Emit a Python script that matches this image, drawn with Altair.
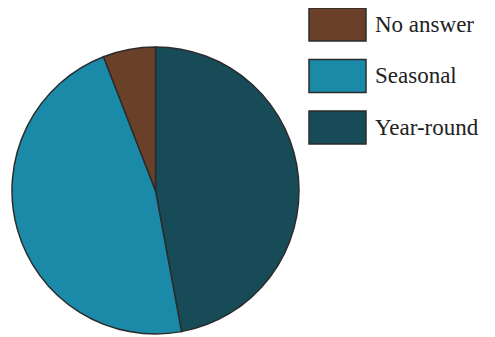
import altair as alt
import pandas as pd

categories = ["Year-round", "Seasonal", "No answer"]
values = [47.1, 47.0, 5.9]
order = [0, 1, 2]

legend_domain = ["No answer", "Seasonal", "Year-round"]
colors = ["#6A4128", "#1A8AA8", "#174B58"]

df = pd.DataFrame({"category": categories, "value": values, "order": order})

chart = alt.Chart(df).mark_arc(
    radius=143.5, stroke="#2b2b2b", strokeWidth=1.5
).encode(
    theta=alt.Theta("value:Q", stack=True),
    order=alt.Order("order:Q"),
    x=alt.value(147.5),
    y=alt.value(182.5),
    color=alt.Color(
        "category:N",
        scale=alt.Scale(domain=legend_domain, range=colors),
        legend=alt.Legend(
            title=None,
            orient="none",
            legendX=300,
            legendY=-13,
            symbolType="M-1,-0.58L1,-0.58L1,0.58L-1,0.58Z",
            symbolSize=3249,
            symbolStrokeColor="#2b2b2b",
            symbolStrokeWidth=1.5,
            symbolOpacity=1,
            labelFont="Liberation Serif",
            labelFontSize=23,
            labelColor="#222222",
            labelOffset=8,
            labelLimit=200,
            rowPadding=1.5,
        ),
    ),
).properties(
    width=479, height=329, padding=0, autosize=alt.AutoSizeParams(type="none")
).configure_view(stroke=None)

chart.save("out.html", embed_options={"renderer": "svg", "actions": False})
